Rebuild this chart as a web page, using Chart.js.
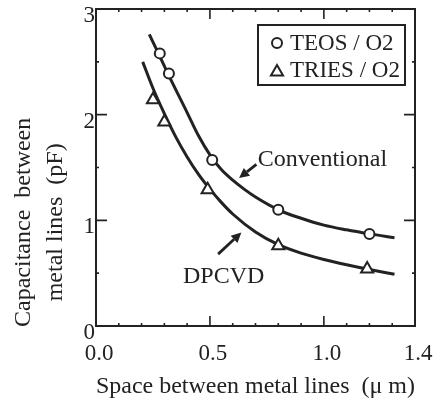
<!DOCTYPE html>
<html><head><meta charset="utf-8">
<script src="https://cdn.jsdelivr.net/npm/chart.js@4"></script>
<style>html,body{margin:0;padding:0;background:#fff;} canvas{display:block;}</style>
</head><body>
<canvas id="c" width="443" height="402"></canvas>
<script>
// ---- data ----
const teosX  = [0.28, 0.32, 0.51, 0.80, 1.20];
const teosY  = [2.58, 2.39, 1.57, 1.10, 0.87];
const triesX = [0.25, 0.30, 0.49, 0.80, 1.19];
const triesY = [2.14, 1.93, 1.29, 0.76, 0.54];
const convX  = [0.234, 0.276, 0.322, 0.40, 0.45, 0.50, 0.55, 0.60, 0.65, 0.70, 0.80, 0.90, 1.00, 1.10, 1.20, 1.31];
const convY  = [2.76, 2.57, 2.36, 2.02, 1.80, 1.62, 1.48, 1.38, 1.295, 1.22, 1.10, 1.02, 0.955, 0.91, 0.872, 0.835];
const dpX    = [0.205, 0.25, 0.30, 0.35, 0.40, 0.45, 0.50, 0.55, 0.60, 0.70, 0.80, 0.90, 1.00, 1.10, 1.20, 1.31];
const dpY    = [2.50, 2.25, 2.01, 1.79, 1.60, 1.435, 1.295, 1.17, 1.06, 0.89, 0.77, 0.69, 0.63, 0.58, 0.535, 0.49];
const seriesLabels = ['TEOS / O2', 'TRIES / O2'];
const curveLabels  = ['Conventional', 'DPCVD'];
const xTickValues  = [0.0, 0.5, 1.0, 1.4];
const yTickValues  = [0, 1, 2, 3];
const xMajorTicks  = [0.5, 1.0];
const xMinorTicks  = [0.1, 0.2, 0.3, 0.4, 0.6, 0.7, 0.8, 0.9, 1.1, 1.2, 1.3];
const yMajorTicks  = [1, 2];
const yMinorTicks  = [0.5, 1.5, 2.5];
const xTitle = 'Space between metal lines  (\u03bc m)';
const yTitle = ['Capacitance  between', 'metal lines  (pF)'];

const INK = '#222';
const SERIF = '"Liberation Serif", "DejaVu Serif", serif';
const pts = (xs, ys) => xs.map((x, i) => ({x, y: ys[i]}));

const deco = {
  id: 'deco',
  afterDraw(chart) {
    const {ctx, chartArea: a, scales: {x, y}} = chart;
    ctx.save();
    ctx.strokeStyle = INK; ctx.fillStyle = INK;
    // frame
    ctx.lineWidth = 2;
    ctx.strokeRect(a.left, a.top, a.right - a.left, a.bottom - a.top);
    // inward ticks
    const tickX = (v, len) => {
      const px = x.getPixelForValue(v);
      ctx.beginPath();
      ctx.moveTo(px, a.bottom); ctx.lineTo(px, a.bottom - len);
      ctx.moveTo(px, a.top); ctx.lineTo(px, a.top + len);
      ctx.stroke();
    };
    const tickY = (v, len) => {
      const py = y.getPixelForValue(v);
      ctx.beginPath();
      ctx.moveTo(a.left, py); ctx.lineTo(a.left + len, py);
      ctx.moveTo(a.right, py); ctx.lineTo(a.right - len, py);
      ctx.stroke();
    };
    ctx.lineWidth = 1.6;
    xMajorTicks.forEach(v => tickX(v, 10));
    xMinorTicks.forEach(v => tickX(v, 3));
    yMajorTicks.forEach(v => tickY(v, 11));
    yMinorTicks.forEach(v => tickY(v, 3));

    // arrows (data coordinates)
    const arrow = (x1, y1, x2, y2) => {
      const p1 = [x.getPixelForValue(x1), y.getPixelForValue(y1)];
      const p2 = [x.getPixelForValue(x2), y.getPixelForValue(y2)];
      const ang = Math.atan2(p2[1] - p1[1], p2[0] - p1[0]);
      const hl = 10, hw = 5;
      const bx = p2[0] - hl * Math.cos(ang), by = p2[1] - hl * Math.sin(ang);
      ctx.lineWidth = 2.8;
      ctx.beginPath(); ctx.moveTo(p1[0], p1[1]); ctx.lineTo(bx, by); ctx.stroke();
      ctx.beginPath();
      ctx.moveTo(p2[0], p2[1]);
      ctx.lineTo(bx + hw * Math.sin(ang), by - hw * Math.cos(ang));
      ctx.lineTo(bx - hw * Math.sin(ang), by + hw * Math.cos(ang));
      ctx.closePath(); ctx.fill();
    };
    arrow(0.704, 1.53, 0.628, 1.40);
    arrow(0.536, 0.68, 0.638, 0.885);

    // annotation texts
    ctx.font = '24px ' + SERIF;
    ctx.textAlign = 'left'; ctx.textBaseline = 'middle';
    ctx.fillText(curveLabels[0], x.getPixelForValue(0.71), y.getPixelForValue(1.577));
    ctx.fillText(curveLabels[1], x.getPixelForValue(0.382), y.getPixelForValue(0.463));

    // legend
    ctx.lineWidth = 2;
    ctx.strokeRect(258, 25, 147, 60);
    const ds = chart.data.datasets;
    [0, 1].forEach(i => {
      const cy = 43 + i * 27;
      ctx.fillStyle = '#fff'; ctx.strokeStyle = INK; ctx.lineWidth = 2;
      Chart.helpers.drawPoint(ctx, {pointStyle: ds[i].pointStyle, radius: ds[i].pointRadius, borderWidth: 2, rotation: 0}, 277, cy + (i ? 2 : 0));
      ctx.fillStyle = INK;
      ctx.font = '23px ' + SERIF;
      ctx.fillText(ds[i].label, 290, cy + 1);
    });

    // y title
    ctx.font = '24px ' + SERIF;
    ctx.textAlign = 'center';
    const cy = (y.getPixelForValue(0) + y.getPixelForValue(2)) / 2 + 2;
    [[24, yTitle[0]], [56, yTitle[1]]].forEach(([cx, t]) => {
      ctx.save(); ctx.translate(cx, cy); ctx.rotate(-Math.PI / 2);
      ctx.fillText(t, 0, 0); ctx.restore();
    });
    ctx.restore();
  }
};

new Chart(document.getElementById('c'), {
  type: 'scatter',
  data: {
    datasets: [
      {label: seriesLabels[0], data: pts(teosX, teosY), pointStyle: 'circle', pointRadius: 5,
       pointBorderWidth: 2, pointBackgroundColor: '#fff', pointBorderColor: INK, showLine: false, order: 0},
      {label: seriesLabels[1], data: pts(triesX, triesY), pointStyle: 'triangle', pointRadius: 7,
       pointBorderWidth: 2, pointBackgroundColor: '#fff', pointBorderColor: INK, showLine: false, order: 0},
      {label: curveLabels[0], data: pts(convX, convY), showLine: true, pointRadius: 0, borderColor: INK,
       borderWidth: 3, cubicInterpolationMode: 'monotone', order: 1},
      {label: curveLabels[1], data: pts(dpX, dpY), showLine: true, pointRadius: 0, borderColor: INK,
       borderWidth: 3, cubicInterpolationMode: 'monotone', order: 1}
    ]
  },
  options: {
    responsive: false, animation: false, devicePixelRatio: 1,
    layout: {padding: {left: 0, right: 28, top: 7, bottom: 0}},
    plugins: {legend: {display: false}, tooltip: {enabled: false}},
    scales: {
      x: {
        type: 'linear', position: 'bottom', min: 0, max: 1.4,
        grid: {display: false, drawTicks: false}, border: {display: false},
        afterBuildTicks: s => { s.ticks = xTickValues.map(v => ({value: v})); },
        afterFit: s => { s.height = 76; s.paddingLeft = 0; s.paddingRight = 0; },
        ticks: {font: {family: SERIF, size: 23}, color: INK, padding: 14, labelOffset: 3,
                maxRotation: 0, autoSkip: false, callback: v => Number(v).toFixed(1)},
        title: {display: true, text: xTitle, font: {family: SERIF, size: 24}, color: INK, padding: {top: 0, bottom: 1}}
      },
      y: {
        type: 'linear', min: 0, max: 3,
        grid: {display: false, drawTicks: false}, border: {display: false},
        afterBuildTicks: s => { s.ticks = yTickValues.map(v => ({value: v})); },
        afterFit: s => { s.width = 96; s.paddingTop = 0; s.paddingBottom = 0; },
        ticks: {font: {family: SERIF, size: 23}, color: INK, padding: 1, labelOffset: 7,
                autoSkip: false, callback: v => String(v)}
      }
    }
  },
  plugins: [deco]
});
</script>
</body></html>
